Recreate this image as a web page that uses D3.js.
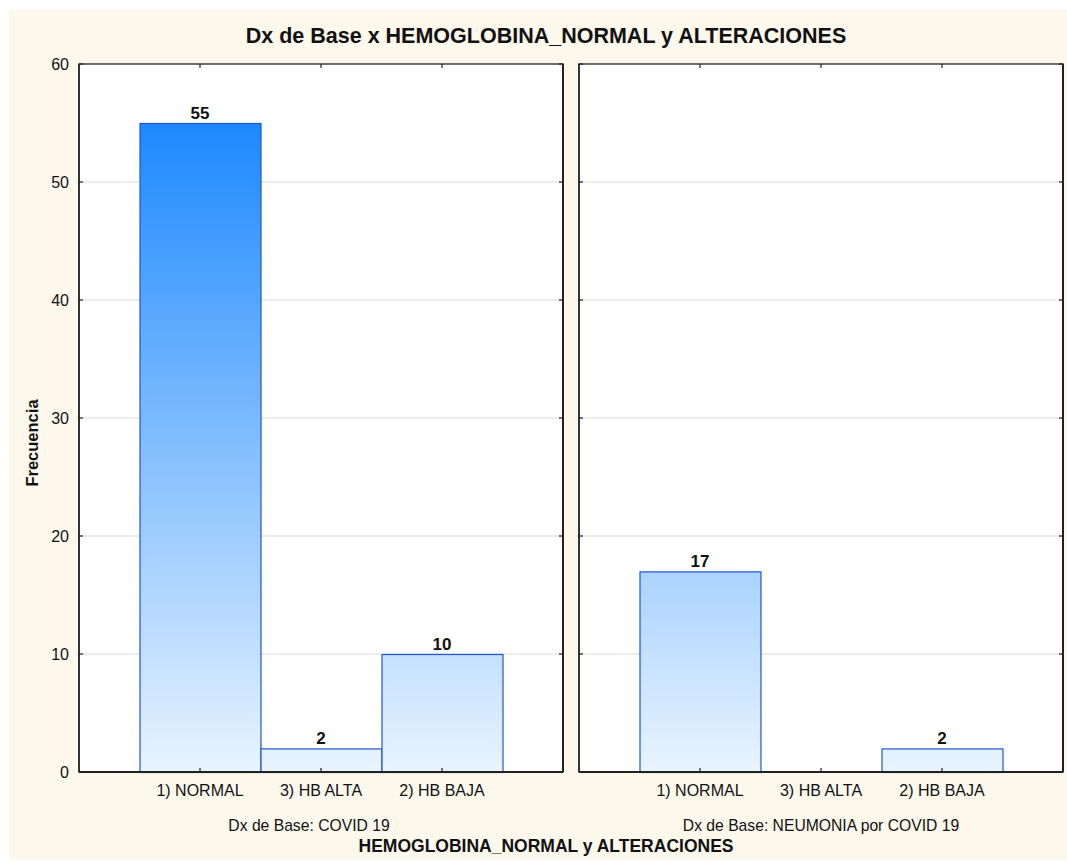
<!DOCTYPE html>
<html>
<head>
<meta charset="utf-8">
<script src="https://cdn.jsdelivr.net/npm/d3@7"></script>
<style>
html,body{margin:0;padding:0;background:#fff;}
svg{display:block;font-family:"Liberation Sans",Arial,sans-serif;}
</style>
</head>
<body>
<svg id="chart" width="1067" height="861"></svg>
<script>
const categories = ["1) NORMAL", "3) HB ALTA", "2) HB BAJA"];
const panels = ["Dx de Base: COVID 19", "Dx de Base: NEUMONIA por COVID 19"];
const covidValues = [55, 2, 10];
const neumoniaValues = [17, 0, 2];
const yTicks = [0, 10, 20, 30, 40, 50, 60];
const chartTitle = "Dx de Base x HEMOGLOBINA_NORMAL y ALTERACIONES";
const xTitle = "HEMOGLOBINA_NORMAL y ALTERACIONES";
const yTitle = "Frecuencia";

const seriesByPanel = [covidValues, neumoniaValues];
const subtitleCenters = [309, 821];

const svg = d3.select("#chart");
svg.append("rect").attr("x", 9).attr("y", 10).attr("width", 1058).attr("height", 850).attr("fill", "#fdf8ec");

const plotTop = 64, plotBottom = 772;
const panelRanges = [[79, 563], [579, 1063]];
const y = d3.scaleLinear().domain([0, 60]).range([plotBottom, plotTop]);

const defs = svg.append("defs");
const grad = defs.append("linearGradient").attr("id", "barGrad")
  .attr("gradientUnits", "userSpaceOnUse")
  .attr("x1", 0).attr("x2", 0).attr("y1", y(60)).attr("y2", y(0));
grad.append("stop").attr("offset", 0).attr("stop-color", "#0a7ffe");
grad.append("stop").attr("offset", 1).attr("stop-color", "#e9f4fe");

panelRanges.forEach((rng, pi) => {
  const x = d3.scaleBand().domain(categories).range(rng).paddingInner(0).paddingOuter(0.5);
  const g = svg.append("g");
  g.append("rect").attr("x", rng[0]).attr("y", plotTop).attr("width", rng[1] - rng[0]).attr("height", plotBottom - plotTop).attr("fill", "#fff");
  g.selectAll("line.grid").data(yTicks.filter(t => t > 0 && t < 60)).enter().append("line")
    .attr("x1", rng[0]).attr("x2", rng[1]).attr("y1", d => y(d)).attr("y2", d => y(d))
    .attr("stroke", "#d9d9d9").attr("stroke-width", 1);
  const data = categories.map((c, i) => ({c, v: seriesByPanel[pi][i]}));
  g.selectAll("rect.bar").data(data.filter(d => d.v > 0)).enter().append("rect")
    .attr("x", d => x(d.c) + 0.5).attr("y", d => y(d.v) + 0.5)
    .attr("width", x.bandwidth()).attr("height", d => y(0) - y(d.v))
    .attr("fill", "url(#barGrad)").attr("stroke", "#1f55d0").attr("stroke-width", 1.2);
  g.selectAll("text.lbl").data(data.filter(d => d.v > 0)).enter().append("text")
    .attr("x", d => x(d.c) + x.bandwidth() / 2).attr("y", d => y(d.v) - 4)
    .attr("text-anchor", "middle").attr("font-weight", "bold").attr("font-size", 17).attr("fill", "#111")
    .text(d => d.v);
  g.append("rect").attr("x", rng[0]).attr("y", plotTop).attr("width", rng[1] - rng[0]).attr("height", plotBottom - plotTop)
    .attr("fill", "none").attr("stroke", "#222").attr("stroke-width", 1.3);
  g.append("line").attr("x1", rng[0]).attr("x2", rng[0]).attr("y1", plotTop).attr("y2", plotBottom).attr("stroke", "#333").attr("stroke-width", 2);
  g.append("line").attr("x1", rng[0]).attr("x2", rng[1]).attr("y1", plotBottom).attr("y2", plotBottom).attr("stroke", "#222").attr("stroke-width", 2);
  g.append("line").attr("x1", rng[1]).attr("x2", rng[1]).attr("y1", plotTop).attr("y2", plotBottom).attr("stroke", "#222").attr("stroke-width", 2);
  yTicks.forEach(t => {
    g.append("line").attr("x1", rng[0]).attr("x2", rng[0] + 4).attr("y1", y(t)).attr("y2", y(t)).attr("stroke", "#222").attr("stroke-width", 1.2);
    g.append("line").attr("x1", rng[1] - 4).attr("x2", rng[1]).attr("y1", y(t)).attr("y2", y(t)).attr("stroke", "#222").attr("stroke-width", 1.2);
  });
  categories.forEach(c => {
    const cx = x(c) + x.bandwidth() / 2;
    g.append("line").attr("x1", cx).attr("x2", cx).attr("y1", plotBottom).attr("y2", plotBottom - 4).attr("stroke", "#222").attr("stroke-width", 1.2);
    g.append("line").attr("x1", cx).attr("x2", cx).attr("y1", plotTop).attr("y2", plotTop + 4).attr("stroke", "#222").attr("stroke-width", 1.2);
  });
  const xAxis = d3.axisBottom(x).tickSize(0).tickPadding(13);
  const ax = g.append("g").attr("transform", `translate(0,${plotBottom})`).call(xAxis);
  ax.select(".domain").remove();
  ax.selectAll("text").attr("font-size", 16).attr("fill", "#111").attr("font-family", "Liberation Sans, Arial, sans-serif");
  g.append("text").attr("x", subtitleCenters[pi]).attr("y", 831).attr("text-anchor", "middle")
    .attr("font-size", 15.7).attr("fill", "#111").text(panels[pi]);
  if (pi === 0) {
    const yAxis = d3.axisLeft(y).tickValues(yTicks).tickSize(0).tickPadding(10);
    const ay = g.append("g").attr("transform", `translate(${rng[0]},0)`).call(yAxis);
    ay.select(".domain").remove();
    ay.selectAll("text").attr("font-size", 16).attr("fill", "#111").attr("font-family", "Liberation Sans, Arial, sans-serif");
  }
});

svg.append("text").attr("x", 546).attr("y", 43).attr("text-anchor", "middle")
  .attr("font-weight", "bold").attr("font-size", 21.5).attr("fill", "#111").text(chartTitle);
svg.append("text").attr("x", 546).attr("y", 852).attr("text-anchor", "middle")
  .attr("font-weight", "bold").attr("font-size", 17.5).attr("fill", "#111").text(xTitle);
svg.append("text").attr("transform", "translate(38,443) rotate(-90)").attr("text-anchor", "middle")
  .attr("font-weight", "bold").attr("font-size", 16.5).attr("fill", "#111").text(yTitle);
</script>
</body>
</html>
